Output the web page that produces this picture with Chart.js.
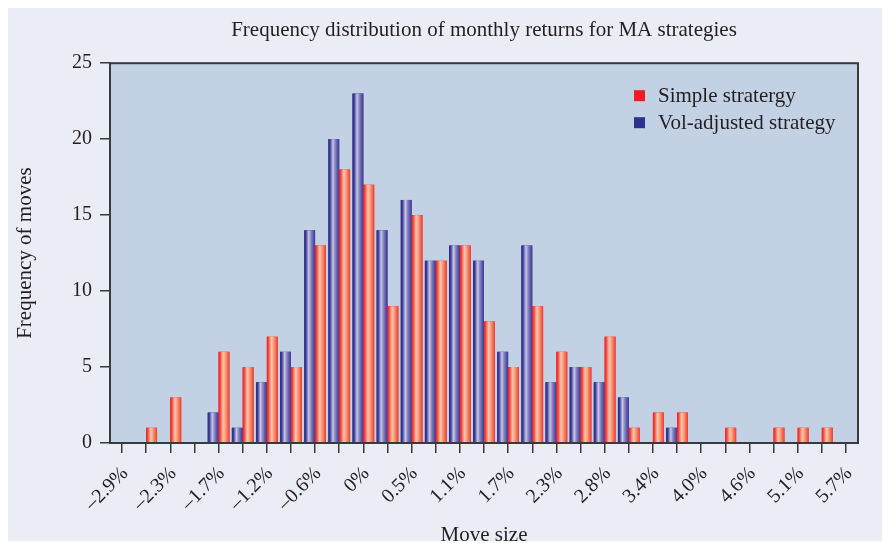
<!DOCTYPE html>
<html>
<head>
<meta charset="utf-8">
<script src="https://cdn.jsdelivr.net/npm/chart.js@4.4.1/dist/chart.umd.min.js"></script>
<style>
  html, body { margin: 0; padding: 0; background: #ffffff; }
  #moldura { position: absolute; left: 8px; top: 8px; width: 874px; height: 533px; background: #eaedf5; }
</style>
</head>
<body>
<div id="moldura"><canvas id="grafico"></canvas></div>
<script>
const titulo = "Frequency distribution of monthly returns for MA strategies";
const nomes_series = ["Vol-adjusted strategy", "Simple stratergy"];

// 31 faixas de retorno; rótulos só nas divisas ímpares
const rotulos_eixo_x = ["–2.9%", "–2.3%", "–1.7%", "–1.2%", "–0.6%", "0%", "0.5%", "1.1%",
  "1.7%", "2.3%", "2.8%", "3.4%", "4.0%", "4.6%", "5.1%", "5.7%"];
const vol_ajustada = [0, 0, 0, 0, 2, 1, 4, 6, 14, 20, 23, 14, 16, 12, 13, 12, 6, 13, 4, 5, 4, 3, 0, 1, 0, 0, 0, 0, 0, 0, 0];
const simples      = [0, 1, 3, 0, 6, 5, 7, 5, 13, 18, 17, 9, 15, 12, 13, 8, 5, 9, 6, 5, 7, 1, 2, 2, 0, 1, 0, 1, 1, 1, 0];

const fonte = "'Liberation Serif', 'DejaVu Serif', serif";
const cor_texto = "#231f20";
const cor_eixo = "#3a3a3c";

const para_pontos = (valores) => valores.map((v, i) => ({ x: i + 0.5, y: v }));

// fundo da área do gráfico e moldura
const plugin_fundo = {
  id: "fundo",
  beforeDatasetsDraw(chart) {
    const { ctx, chartArea: a } = chart;
    ctx.save();
    ctx.fillStyle = "#c2d1e4";
    ctx.fillRect(a.left, a.top, a.right - a.left, a.bottom - a.top);
    ctx.restore();
  },
  afterDraw(chart) {
    const { ctx, chartArea: a } = chart;
    ctx.save();
    ctx.strokeStyle = cor_eixo;
    ctx.lineWidth = 2;
    ctx.strokeRect(a.left, a.top, a.right - a.left, a.bottom - a.top);
    ctx.restore();
  },
};

// listras em degradê das barras
const paradas = [
  [[0, "#2b2c8a"], [0.15, "#3b3c95"], [0.42, "#c9c7e8"], [0.6, "#8e8cc4"], [0.85, "#5752a4"], [1, "#3f3d96"]],
  [[0, "#ec1c24"], [0.15, "#f24a3d"], [0.42, "#fcc6ab"], [0.6, "#f9a486"], [0.85, "#f2644a"], [1, "#ee3d33"]],
];
const plugin_degrade = {
  id: "degrade",
  afterDatasetsDraw(chart) {
    const ctx = chart.ctx;
    ctx.save();
    chart.data.datasets.forEach((ds, d) => {
      chart.getDatasetMeta(d).data.forEach((barra) => {
        const { x, y, base, width } = barra.getProps(["x", "y", "base", "width"], true);
        if (base - y < 0.5) return;
        const esq = x - width / 2;
        const grad = ctx.createLinearGradient(esq, 0, esq + width, 0);
        paradas[d].forEach(([p, c]) => grad.addColorStop(p, c));
        ctx.fillStyle = grad;
        ctx.fillRect(esq, y, width, base - y);
      });
    });
    ctx.restore();
  },
};

// legenda dentro da área, canto superior direito
const plugin_legenda = {
  id: "legenda_interna",
  afterDraw(chart) {
    const { ctx, chartArea: a } = chart;
    const itens = [
      { texto: nomes_series[1], cor: "#ed1c24" },
      { texto: nomes_series[0], cor: "#2e3192" },
    ];
    ctx.save();
    ctx.font = "21px " + fonte;
    ctx.textBaseline = "middle";
    itens.forEach((item, i) => {
      const cy = a.top + 32.5 + i * 27;
      ctx.fillStyle = item.cor;
      ctx.fillRect(a.right - 224, cy - 5.5, 11, 11);
      ctx.fillStyle = cor_texto;
      ctx.fillText(item.texto, a.right - 200, cy + 1);
    });
    ctx.restore();
  },
};

const ctx = document.getElementById("grafico");
window.grafico_canva = new Chart(ctx, {
  type: "bar",
  data: {
    datasets: [
      { label: nomes_series[0], data: para_pontos(vol_ajustada), backgroundColor: "#2e3192" },
      { label: nomes_series[1], data: para_pontos(simples), backgroundColor: "#ed1c24" },
    ],
  },
  plugins: [plugin_fundo, plugin_degrade, plugin_legenda],
  options: {
    responsive: true,
    maintainAspectRatio: false,
    animation: false,
    categoryPercentage: 0.9,
    barPercentage: 1.0,
    layout: { padding: { top: 9, right: 24, left: 0, bottom: 0 } },
    plugins: {
      legend: { display: false },
      tooltip: { enabled: false },
      title: {
        display: true,
        text: titulo,
        fullSize: false,
        color: cor_texto,
        font: { family: fonte, size: 21, weight: "normal", lineHeight: 1.2 },
        padding: { top: 1, bottom: 20 },
      },
    },
    scales: {
      x: {
        type: "linear",
        min: 0,
        max: 31,
        offset: false,
        afterFit: (escala) => {
          escala.height = 98;
          escala.paddingLeft = 0;
          escala.paddingRight = 0;
        },
        ticks: {
          stepSize: 1,
          autoSkip: false,
          maxRotation: 45,
          minRotation: 45,
          padding: 9,
          labelOffset: -9,
          color: cor_texto,
          font: { family: fonte, size: 20 },
          callback: (v) => (v % 2 === 1 ? rotulos_eixo_x[(v - 1) / 2] : ""),
        },
        grid: { drawOnChartArea: false, tickLength: 10, color: cor_eixo, lineWidth: 1.5 },
        border: { display: true, color: cor_eixo, width: 2 },
        title: {
          display: true,
          text: "Move size",
          color: cor_texto,
          font: { family: fonte, size: 21, lineHeight: 1 },
          padding: { top: 0, bottom: -5 },
        },
      },
      y: {
        min: 0,
        max: 25,
        afterFit: (escala) => { escala.width = 102; },
        ticks: {
          stepSize: 5,
          padding: 8,
          color: cor_texto,
          font: { family: fonte, size: 20 },
        },
        grid: { drawOnChartArea: false, tickLength: 10, color: cor_eixo, lineWidth: 1.5 },
        border: { display: true, color: cor_eixo, width: 2 },
        title: {
          display: true,
          text: "Frequency of moves",
          color: cor_texto,
          font: { family: fonte, size: 21 },
          padding: { top: 5, bottom: 0 },
        },
      },
    },
  },
});
</script>
</body>
</html>
